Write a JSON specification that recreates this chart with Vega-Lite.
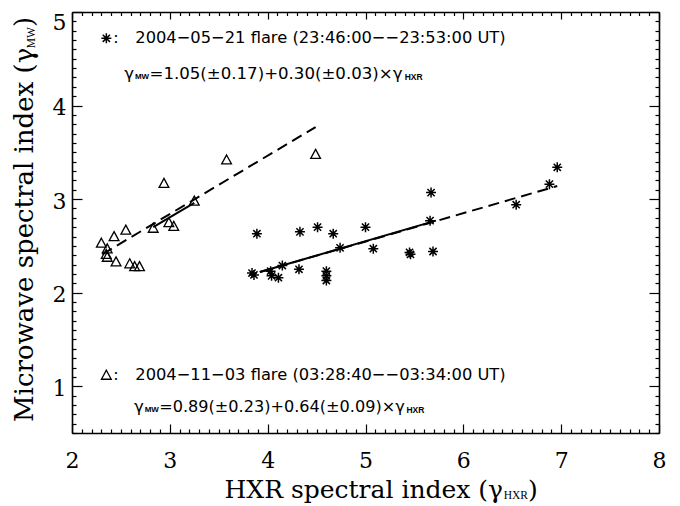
{
  "$schema": "https://vega.github.io/schema/vega-lite/v6.json",
  "width": 587,
  "height": 421,
  "autosize": {"type": "none"},
  "padding": {"left": 72, "top": 12, "right": 21, "bottom": 73},
  "background": "white",
  "config": {
    "view": {"stroke": null},
    "axis": {
      "grid": false,
      "domainColor": "black",
      "domainWidth": 1.6,
      "tickColor": "black",
      "tickWidth": 1.2,
      "labelColor": "black",
      "labelFont": "DejaVu Serif",
      "labelFontSize": 22,
      "labelOverlap": false
    }
  },
  "resolve": {"axis": {"x": "independent", "y": "independent"}},
  "layer": [
    {
      "data": {"values": [
        {"hxr": 2.30, "mw": 2.53}, {"hxr": 2.36, "mw": 2.47}, {"hxr": 2.35, "mw": 2.41},
        {"hxr": 2.36, "mw": 2.38}, {"hxr": 2.43, "mw": 2.60}, {"hxr": 2.45, "mw": 2.33},
        {"hxr": 2.55, "mw": 2.67}, {"hxr": 2.59, "mw": 2.31}, {"hxr": 2.64, "mw": 2.28},
        {"hxr": 2.69, "mw": 2.28}, {"hxr": 2.83, "mw": 2.69}, {"hxr": 2.94, "mw": 3.17},
        {"hxr": 2.99, "mw": 2.75}, {"hxr": 3.04, "mw": 2.71}, {"hxr": 3.25, "mw": 2.98},
        {"hxr": 3.58, "mw": 3.42}, {"hxr": 4.49, "mw": 3.48}
      ]},
      "mark": {"type": "point", "shape": "M0,-1L1,0.85L-1,0.85Z", "filled": false, "stroke": "black", "strokeWidth": 1.3, "size": 95, "opacity": 1},
      "encoding": {
        "x": {"field": "hxr", "type": "quantitative", "scale": {"domain": [2, 8], "nice": false, "zero": false},
          "axis": {"orient": "bottom", "title": null, "values": [2, 3, 4, 5, 6, 7, 8], "format": "d",
            "tickSize": -9, "labelPadding": 26, "labelFlush": false}},
        "y": {"field": "mw", "type": "quantitative", "scale": {"domain": [0.5, 5], "nice": false, "zero": false},
          "axis": {"orient": "left", "title": null, "values": [1, 2, 3, 4, 5], "format": "d",
            "tickSize": -10, "labelPadding": 16, "labelFlush": false,
            "labelOffset": {"condition": {"test": "datum.value == 5", "value": 10}, "value": 2}}}
      }
    },
    {
      "data": {"values": [
        {"hxr": 3.84, "mw": 2.21}, {"hxr": 3.86, "mw": 2.19}, {"hxr": 3.89, "mw": 2.63},
        {"hxr": 4.03, "mw": 2.23}, {"hxr": 4.04, "mw": 2.18}, {"hxr": 4.11, "mw": 2.16},
        {"hxr": 4.15, "mw": 2.29}, {"hxr": 4.32, "mw": 2.25}, {"hxr": 4.33, "mw": 2.65},
        {"hxr": 4.51, "mw": 2.70}, {"hxr": 4.60, "mw": 2.23}, {"hxr": 4.60, "mw": 2.18},
        {"hxr": 4.60, "mw": 2.13}, {"hxr": 4.67, "mw": 2.63}, {"hxr": 4.74, "mw": 2.48},
        {"hxr": 5.00, "mw": 2.70}, {"hxr": 5.08, "mw": 2.47}, {"hxr": 5.45, "mw": 2.43},
        {"hxr": 5.46, "mw": 2.41}, {"hxr": 5.69, "mw": 2.44}, {"hxr": 5.67, "mw": 3.07},
        {"hxr": 5.66, "mw": 2.77}, {"hxr": 6.54, "mw": 2.94}, {"hxr": 6.88, "mw": 3.16},
        {"hxr": 6.96, "mw": 3.34}
      ]},
      "mark": {"type": "point", "shape": "M-1,0L1,0M0,-1L0,1M-0.72,-0.72L0.72,0.72M-0.72,0.72L0.72,-0.72", "filled": false, "stroke": "black", "strokeWidth": 1.5, "size": 100, "opacity": 1},
      "encoding": {
        "x": {"field": "hxr", "type": "quantitative", "scale": {"domain": [2, 8], "nice": false, "zero": false},
          "axis": {"orient": "top", "title": null, "labels": false, "values": [2, 3, 4, 5, 6, 7, 8], "tickSize": -7}},
        "y": {"field": "mw", "type": "quantitative", "scale": {"domain": [0.5, 5], "nice": false, "zero": false},
          "axis": {"orient": "right", "title": null, "labels": false, "values": [1, 2, 3, 4, 5], "tickSize": -10}}
      }
    },
    {
      "data": {"values": [
        {"flare": "2004-11-03", "hxr": 2.31, "mw": 2.41}, {"flare": "2004-11-03", "hxr": 4.49, "mw": 3.77},
        {"flare": "2004-05-21", "hxr": 3.92, "mw": 2.22}, {"flare": "2004-05-21", "hxr": 6.96, "mw": 3.14}
      ]},
      "mark": {"type": "line", "color": "black", "strokeWidth": 2, "strokeDash": [11, 6]},
      "encoding": {
        "x": {"field": "hxr", "type": "quantitative", "scale": {"domain": [2, 8], "nice": false, "zero": false},
          "axis": {"orient": "bottom", "title": null, "labels": false, "domain": false, "tickSize": -4,
            "values": [2.1,2.2,2.3,2.4,2.5,2.6,2.7,2.8,2.9,3.1,3.2,3.3,3.4,3.5,3.6,3.7,3.8,3.9,4.1,4.2,4.3,4.4,4.5,4.6,4.7,4.8,4.9,5.1,5.2,5.3,5.4,5.5,5.6,5.7,5.8,5.9,6.1,6.2,6.3,6.4,6.5,6.6,6.7,6.8,6.9,7.1,7.2,7.3,7.4,7.5,7.6,7.7,7.8,7.9]}},
        "y": {"field": "mw", "type": "quantitative", "scale": {"domain": [0.5, 5], "nice": false, "zero": false},
          "axis": {"orient": "left", "title": null, "labels": false, "domain": false, "tickSize": -4,
            "values": [0.5,0.6,0.7,0.8,0.9,1.1,1.2,1.3,1.4,1.5,1.6,1.7,1.8,1.9,2.1,2.2,2.3,2.4,2.5,2.6,2.7,2.8,2.9,3.1,3.2,3.3,3.4,3.5,3.6,3.7,3.8,3.9,4.1,4.2,4.3,4.4,4.5,4.6,4.7,4.8,4.9]}},
        "detail": {"field": "flare"}
      }
    },
    {
      "data": {"values": [
        {"flare": "2004-11-03", "hxr": 2.83, "mw": 2.70}, {"flare": "2004-11-03", "hxr": 3.25, "mw": 2.96},
        {"flare": "2004-05-21", "hxr": 3.92, "mw": 2.22}, {"flare": "2004-05-21", "hxr": 5.72, "mw": 2.77}
      ]},
      "mark": {"type": "line", "color": "black", "strokeWidth": 2},
      "encoding": {
        "x": {"field": "hxr", "type": "quantitative", "scale": {"domain": [2, 8], "nice": false, "zero": false},
          "axis": {"orient": "top", "title": null, "labels": false, "domain": false, "tickSize": -3.5,
            "values": [2.1,2.2,2.3,2.4,2.5,2.6,2.7,2.8,2.9,3.1,3.2,3.3,3.4,3.5,3.6,3.7,3.8,3.9,4.1,4.2,4.3,4.4,4.5,4.6,4.7,4.8,4.9,5.1,5.2,5.3,5.4,5.5,5.6,5.7,5.8,5.9,6.1,6.2,6.3,6.4,6.5,6.6,6.7,6.8,6.9,7.1,7.2,7.3,7.4,7.5,7.6,7.7,7.8,7.9]}},
        "y": {"field": "mw", "type": "quantitative", "scale": {"domain": [0.5, 5], "nice": false, "zero": false},
          "axis": {"orient": "right", "title": null, "labels": false, "domain": false, "tickSize": -4,
            "values": [0.5,0.6,0.7,0.8,0.9,1.1,1.2,1.3,1.4,1.5,1.6,1.7,1.8,1.9,2.1,2.2,2.3,2.4,2.5,2.6,2.7,2.8,2.9,3.1,3.2,3.3,3.4,3.5,3.6,3.7,3.8,3.9,4.1,4.2,4.3,4.4,4.5,4.6,4.7,4.8,4.9]}},
        "detail": {"field": "flare"}
      }
    },
    {
      "data": {"values": [{"label": "2004-05-21"}]},
      "mark": {"type": "point", "shape": "M-1,0L1,0M0,-1L0,1M-0.72,-0.72L0.72,0.72M-0.72,0.72L0.72,-0.72", "filled": false, "stroke": "black", "strokeWidth": 1.5, "size": 100, "opacity": 1},
      "encoding": {"x": {"datum": 2.351, "type": "quantitative", "axis": null}, "y": {"datum": 4.719, "type": "quantitative", "axis": null}}
    },
    {
      "data": {"values": [{"label": "2004-11-03"}]},
      "mark": {"type": "point", "shape": "M0,-1L1,0.85L-1,0.85Z", "filled": false, "stroke": "black", "strokeWidth": 1.3, "size": 95, "opacity": 1},
      "encoding": {"x": {"datum": 2.351, "type": "quantitative", "axis": null}, "y": {"datum": 1.119, "type": "quantitative", "axis": null}}
    },
    {
      "data": {"values": [{"t": ":", "y": 4.719}, {"t": ":", "y": 1.119}]},
      "mark": {"type": "text", "align": "left", "baseline": "middle", "font": "DejaVu Sans", "fontSize": 16, "color": "black"},
      "encoding": {"x": {"datum": 2.422, "type": "quantitative", "axis": null}, "y": {"field": "y", "type": "quantitative", "axis": null}, "text": {"field": "t"}}
    },
    {
      "data": {"values": [{"t": "2004−05−21 flare (23:46:00−−23:53:00 UT)"}]},
      "mark": {"type": "text", "align": "left", "baseline": "middle", "font": "DejaVu Sans", "fontSize": 16.3, "color": "black"},
      "encoding": {"x": {"datum": 2.647, "type": "quantitative", "axis": null}, "y": {"datum": 4.719, "type": "quantitative", "axis": null}, "text": {"field": "t"}}
    },
    {
      "data": {"values": [{"t": "2004−11−03 flare (03:28:40−−03:34:00 UT)"}]},
      "mark": {"type": "text", "align": "left", "baseline": "middle", "font": "DejaVu Sans", "fontSize": 16.3, "color": "black"},
      "encoding": {"x": {"datum": 2.647, "type": "quantitative", "axis": null}, "y": {"datum": 1.119, "type": "quantitative", "axis": null}, "text": {"field": "t"}}
    },
    {
      "data": {"values": [{"t": "γ"}]},
      "mark": {"type": "text", "align": "left", "baseline": "middle", "font": "DejaVu Sans", "fontSize": 16.6, "color": "black"},
      "encoding": {"x": {"datum": 2.535, "type": "quantitative", "axis": null}, "y": {"datum": 4.334, "type": "quantitative", "axis": null}, "text": {"field": "t"}}
    },
    {
      "data": {"values": [{"t": "MW"}]},
      "mark": {"type": "text", "align": "left", "baseline": "middle", "font": "Liberation Sans", "fontWeight": "bold", "fontSize": 8, "color": "black"},
      "encoding": {"x": {"datum": 2.643, "type": "quantitative", "axis": null}, "y": {"datum": 4.30, "type": "quantitative", "axis": null}, "text": {"field": "t"}}
    },
    {
      "data": {"values": [{"t": "=1.05(±0.17)+0.30(±0.03)×γ"}]},
      "mark": {"type": "text", "align": "left", "baseline": "middle", "font": "DejaVu Sans", "fontSize": 16.6, "color": "black"},
      "encoding": {"x": {"datum": 2.792, "type": "quantitative", "axis": null}, "y": {"datum": 4.334, "type": "quantitative", "axis": null}, "text": {"field": "t"}}
    },
    {
      "data": {"values": [{"t": "HXR"}]},
      "mark": {"type": "text", "align": "left", "baseline": "middle", "font": "Liberation Sans", "fontWeight": "bold", "fontSize": 8.5, "color": "black"},
      "encoding": {"x": {"datum": 5.40, "type": "quantitative", "axis": null}, "y": {"datum": 4.30, "type": "quantitative", "axis": null}, "text": {"field": "t"}}
    },
    {
      "data": {"values": [{"t": "γ"}]},
      "mark": {"type": "text", "align": "left", "baseline": "middle", "font": "DejaVu Sans", "fontSize": 16.6, "color": "black"},
      "encoding": {"x": {"datum": 2.635, "type": "quantitative", "axis": null}, "y": {"datum": 0.78, "type": "quantitative", "axis": null}, "text": {"field": "t"}}
    },
    {
      "data": {"values": [{"t": "MW"}]},
      "mark": {"type": "text", "align": "left", "baseline": "middle", "font": "Liberation Sans", "fontWeight": "bold", "fontSize": 8, "color": "black"},
      "encoding": {"x": {"datum": 2.743, "type": "quantitative", "axis": null}, "y": {"datum": 0.748, "type": "quantitative", "axis": null}, "text": {"field": "t"}}
    },
    {
      "data": {"values": [{"t": "=0.89(±0.23)+0.64(±0.09)×γ"}]},
      "mark": {"type": "text", "align": "left", "baseline": "middle", "font": "DejaVu Sans", "fontSize": 16.1, "color": "black"},
      "encoding": {"x": {"datum": 2.892, "type": "quantitative", "axis": null}, "y": {"datum": 0.78, "type": "quantitative", "axis": null}, "text": {"field": "t"}}
    },
    {
      "data": {"values": [{"t": "HXR"}]},
      "mark": {"type": "text", "align": "left", "baseline": "middle", "font": "Liberation Sans", "fontWeight": "bold", "fontSize": 8.5, "color": "black"},
      "encoding": {"x": {"datum": 5.418, "type": "quantitative", "axis": null}, "y": {"datum": 0.748, "type": "quantitative", "axis": null}, "text": {"field": "t"}}
    },
    {
      "data": {"values": [{"t": "HXR spectral index (γ"}]},
      "mark": {"type": "text", "align": "right", "baseline": "alphabetic", "font": "DejaVu Serif", "fontSize": 25, "color": "black"},
      "encoding": {"x": {"datum": 6.406, "type": "quantitative", "axis": null}, "y": {"datum": -0.196, "type": "quantitative", "axis": null}, "text": {"field": "t"}}
    },
    {
      "data": {"values": [{"t": "HXR"}]},
      "mark": {"type": "text", "align": "left", "baseline": "alphabetic", "font": "Liberation Serif", "fontSize": 11.5, "color": "black"},
      "encoding": {"x": {"datum": 6.412, "type": "quantitative", "axis": null}, "y": {"datum": -0.21, "type": "quantitative", "axis": null}, "text": {"field": "t"}}
    },
    {
      "data": {"values": [{"t": ")"}]},
      "mark": {"type": "text", "align": "left", "baseline": "alphabetic", "font": "DejaVu Serif", "fontSize": 25, "color": "black"},
      "encoding": {"x": {"datum": 6.66, "type": "quantitative", "axis": null}, "y": {"datum": -0.196, "type": "quantitative", "axis": null}, "text": {"field": "t"}}
    },
    {
      "data": {"values": [{"t": "Microwave spectral index (γ"}]},
      "mark": {"type": "text", "align": "right", "baseline": "alphabetic", "angle": 270, "font": "DejaVu Serif", "fontSize": 26, "color": "black"},
      "encoding": {"x": {"datum": 1.605, "type": "quantitative", "axis": null}, "y": {"datum": 4.618, "type": "quantitative", "axis": null}, "text": {"field": "t"}}
    },
    {
      "data": {"values": [{"t": "MW"}]},
      "mark": {"type": "text", "align": "left", "baseline": "alphabetic", "angle": 270, "font": "Liberation Serif", "fontSize": 11.5, "color": "black"},
      "encoding": {"x": {"datum": 1.618, "type": "quantitative", "axis": null}, "y": {"datum": 4.612, "type": "quantitative", "axis": null}, "text": {"field": "t"}}
    },
    {
      "data": {"values": [{"t": ")"}]},
      "mark": {"type": "text", "align": "left", "baseline": "alphabetic", "angle": 270, "font": "DejaVu Serif", "fontSize": 26, "color": "black"},
      "encoding": {"x": {"datum": 1.605, "type": "quantitative", "axis": null}, "y": {"datum": 4.84, "type": "quantitative", "axis": null}, "text": {"field": "t"}}
    }
  ]
}
